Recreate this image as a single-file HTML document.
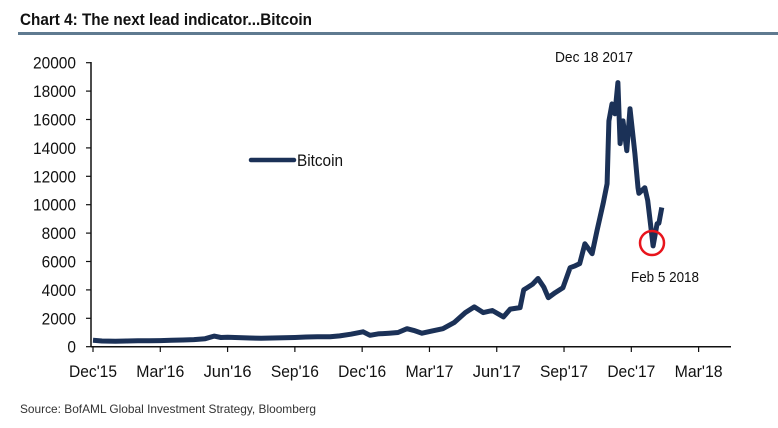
<!DOCTYPE html>
<html><head><meta charset="utf-8"><style>
html,body{margin:0;padding:0;background:#fff;}
svg{display:block;font-family:"Liberation Sans Narrow","Liberation Sans",sans-serif;}
</style></head><body>
<svg id="chart" width="778" height="428" viewBox="0 0 778 428">
<text x="20" y="25" font-size="17" font-weight="bold" fill="#111" textLength="292" lengthAdjust="spacingAndGlyphs">Chart 4: The next lead indicator...Bitcoin</text>
<rect x="18" y="32" width="760" height="3" fill="#5f7a90"/>
<g id="axes"></g>
<path id="series" fill="none" stroke="#1b3157" stroke-width="5" stroke-linejoin="round"/>
<line x1="251" y1="160" x2="294" y2="160" stroke="#1b3157" stroke-width="4.5" stroke-linecap="round"/>
<text x="297" y="166" font-size="17" fill="#111" textLength="46" lengthAdjust="spacingAndGlyphs">Bitcoin</text>
<text x="555" y="62" font-size="15" fill="#111" textLength="78" lengthAdjust="spacingAndGlyphs">Dec 18 2017</text>
<circle cx="652" cy="243" r="12" fill="none" stroke="#e8141c" stroke-width="2.5"/>
<text x="631" y="282" font-size="15" fill="#111" textLength="68" lengthAdjust="spacingAndGlyphs">Feb 5 2018</text>
<text x="20" y="413" font-size="12" fill="#333" textLength="296" lengthAdjust="spacingAndGlyphs">Source: BofAML Global Investment Strategy, Bloomberg</text>
</svg>
<script>
const xTickLabels=["Dec'15","Mar'16","Jun'16","Sep'16","Dec'16","Mar'17","Jun'17","Sep'17","Dec'17","Mar'18"];
const yTicks=[0,2000,4000,6000,8000,10000,12000,14000,16000,18000,20000];
// months since Dec 2015
const months=[0,0.4,1,1.5,2,2.5,3,3.5,4,4.5,5,5.4,5.7,6,6.5,7,7.5,8,8.5,9,9.5,10,10.57,11,11.5,12.04,12.35,12.7,13.2,13.6,14.0,14.3,14.67,15.1,15.6,16.1,16.6,17.0,17.4,17.8,18.3,18.6,19.04,19.2,19.35,19.6,19.84,20.1,20.3,20.6,20.95,21.27,21.5,21.7,21.93,22.25,22.47,22.74,22.92,23.0,23.14,23.27,23.4,23.5,23.63,23.8,23.94,24.16,24.3,24.34,24.6,24.73,24.97,25.15,25.23,25.36];
const prices=[450,400,380,400,420,420,430,450,470,500,560,750,650,670,640,610,600,610,630,650,680,700,700,760,880,1050,800,900,950,1000,1270,1150,950,1100,1270,1700,2400,2800,2400,2550,2100,2650,2750,4000,4150,4400,4800,4200,3450,3800,4150,5560,5700,5850,7250,6550,8170,10070,11480,15900,17100,16400,18600,14300,15900,13800,16760,13600,11200,10800,11200,10300,7100,8660,8700,9800];
const X0=93,XW=22.43,Y0=346.7,YH=284/20000;
const xs=t=>X0+t*XW, ys=v=>Y0-v*YH;
const NS="http://www.w3.org/2000/svg";
const ax=document.getElementById('axes');
function mk(tag,attrs){const e=document.createElementNS(NS,tag);for(const k in attrs)e.setAttribute(k,attrs[k]);ax.appendChild(e);return e;}
let e=mk('line',{x1:91,y1:62,x2:91,y2:347,stroke:'#111','stroke-width':1.5});


e=mk('line',{x1:91,y1:346.7,x2:731,y2:346.7,stroke:'#111','stroke-width':1.5});


yTicks.forEach(v=>{
  const y=ys(v);
  let t=mk('line',{x1:86,y1:y,x2:91,y2:y,stroke:'#111','stroke-width':1.2});
  
  
  const s=String(v);
  let l=mk('text',{x:76,y:y+6,'font-size':17,'text-anchor':'end',fill:'#111',textLength:s.length*8.6,lengthAdjust:'spacingAndGlyphs'});
  l.textContent=s;
  
  
});
xTickLabels.forEach((s,i)=>{
  const x=xs(i*3);
  let t=mk('line',{x1:x,y1:346.7,x2:x,y2:352,stroke:'#111','stroke-width':1.2});
  
  
  let l=mk('text',{x:x,y:377,'font-size':17,'text-anchor':'middle',fill:'#111',textLength:48,lengthAdjust:'spacingAndGlyphs'});
  l.textContent=s;
  
  
});
document.getElementById('series').setAttribute('d',months.map((t,i)=>(i?'L':'M')+xs(t).toFixed(1)+' '+ys(prices[i]).toFixed(1)).join(' '));
</script>
</body></html>
